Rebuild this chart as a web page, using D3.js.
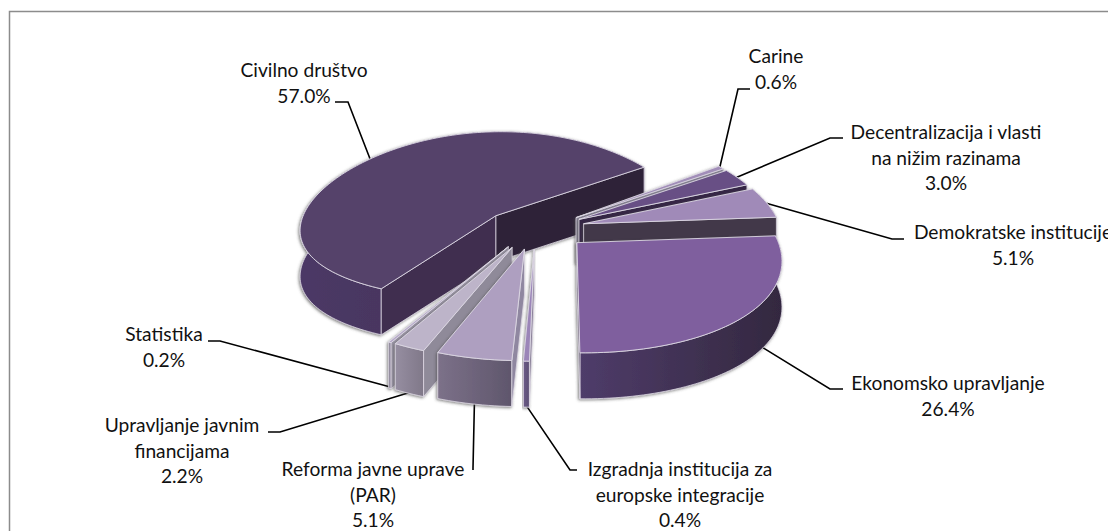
<!DOCTYPE html>
<html>
  <head>
    <meta http-equiv="Content-Type" content="text/html; charset=UTF-8" />
    <title>Pie</title>
    <script src="https://d3js.org/d3.v7.min.js"></script>
    <style>
      html, body { margin: 0; padding: 0; background: #fff; overflow: hidden; }
      text { font-family: Lato, "Open Sans", sans-serif; font-size: 19.2px; fill: #111; text-anchor: middle; }
    </style>
  </head>
  <body>
    <script type="text/javascript">
    // values in percent, clockwise from the first slice
    var categories = ["Civilno društvo", "Carine", "Decentralizacija i vlasti|na nižim razinama", "Demokratske institucije",
      "Ekonomsko upravljanje", "Izgradnja institucija za|europske integracije", "Reforma javne uprave|(PAR)",
      "Upravljanje javnim|financijama", "Statistika"];
    var shares = [57.0, 0.6, 3.0, 5.1, 26.4, 0.4, 5.1, 2.2, 0.2];

    var topColors = ["#55426b", "#a18db8", "#674f85", "#a08ab8", "#7f5f9e", "#9b85b8", "#ae9fc0", "#bdb4c9", "#b5a8c8"];
    var wallLight = ["#4c3966", "#8a8398", "#4a3a62", "#5a4e68", "#4f3c6a", "#6c5c88", "#7c7189", "#968ea1", "#8f8799"];
    var wallDark = ["#3c2c4e", "#76708a", "#352845", "#423848", "#33283f", "#5a4c72", "#5f566c", "#807889", "#7f7790"];
    var faceStart = ["#3f2d4f", "#8a8598", "#352845", "#423848", "#33283f", "#8a8198", "#8f87a0", "#8f8a99", "#9a95a5"];
    var faceEnd = ["#2e2338", "#8a8598", "#352845", "#423848", "#33283f", "#8a8198", "#8f87a0", "#8f8a99", "#9a95a5"];

    // label layout: centre, first baseline, leader elbow and leader end
    var labelX = [304, 776, 946, 1013, 948, 680, 373, 182, 164];
    var labelY = [77, 63, 139, 239, 390, 476, 476, 432, 341];
    var elbowX = [348, 738, 830, 892, 830, 570, 473, 280, 220];
    var elbowY = [102, 89, 138, 239, 389, 470, 468, 432, 341];
    var endX = [335, 750, 843, 904, 843, 577, 473, 268, 208];
    var endY = [102, 89, 138, 239, 389, 470, 470, 432, 341];
    // where along its slice each leader leaves (0 start, 1 end)
    var leaderAt = [0.5, 0.5, 0.5, 0.5, 0.4, 0.5, 0.5, 0.5, 0.5];
    // how far each slice is pulled out, as a share of the radius
    var explode = [0.28, 0.25, 0.25, 0.25, 0.28, 0.28, 0.28, 0.28, 0.28];
    // the big slice sits further back and looks flatter than the others
    var squash = [84, 96, 96, 96, 96, 96, 96, 96, 96];
    var perspY = [0, 0.1, 0.1, 0.1, 0.1, 0.1, 0.1, 0.1, 0.1];

    var width = 1108, height = 531;
    var cx = 536, cy = 228;   // pie centre on screen
    var S = 197, perspX = 0.15, depth = 46;
    var explodeY = 0.78;
    var lineGap = 25.5;
    var firstAngle = 209.5;

    var svg = d3.select("body").append("svg").attr("width", width).attr("height", height);
    var defs = svg.append("defs");
    var shadow = defs.append("filter").attr("id", "shadow")
      .attr("x", "-10%").attr("y", "-10%").attr("width", "120%").attr("height", "120%");
    shadow.append("feDropShadow").attr("dx", -1).attr("dy", 1).attr("stdDeviation", 1.6)
      .attr("flood-color", "#444").attr("flood-opacity", 0.7);

    svg.append("path").attr("d", "M9.5," + height + "V11.5H" + width)
      .attr("fill", "none").attr("stroke", "#8c8c8c").attr("stroke-width", 1.5);

    var pie = d3.pie().sort(null).value(function(d) { return d; })
      .startAngle(firstAngle * Math.PI / 180).endAngle((firstAngle + 360) * Math.PI / 180);
    var arcs = pie(shares);

    // point on a slice: a = pie angle, r = radius 0..1, z = 0 top, 1 bottom
    function project(arc, a, r, z) {
      var mid = (arc.startAngle + arc.endAngle) / 2, i = arc.index;
      var u = explode[i] * Math.sin(mid) + r * Math.sin(a);
      var v = -explode[i] * explodeY * Math.cos(mid) - r * Math.cos(a);
      return [cx + S * u / (1 - perspX * v), cy + squash[i] * v / (1 - perspY[i] * v) + z * depth];
    }

    function rim(arc, z) {
      var steps = Math.max(2, Math.ceil((arc.endAngle - arc.startAngle) * 40));
      return d3.range(steps + 1).map(function(i) {
        return project(arc, arc.startAngle + (arc.endAngle - arc.startAngle) * i / steps, 1, z);
      });
    }

    function face(arc, a) {
      return [project(arc, a, 0, 0), project(arc, a, 1, 0), project(arc, a, 1, 1), project(arc, a, 0, 1)];
    }

    var poly = function(p) { return "M" + p.join("L") + "Z"; };
    var edge = "#ddd8e3";

    // leaders go under the pie so they stop at the slice edge
    arcs.forEach(function(arc, i) {
      var a = arc.startAngle + (arc.endAngle - arc.startAngle) * leaderAt[i];
      var start = project(arc, a, 0.99, -Math.cos(a) > 0 ? 1 : 0);
      svg.append("polyline")
        .attr("points", [start, [elbowX[i], elbowY[i]], [endX[i], endY[i]]].join(" "))
        .attr("fill", "none").attr("stroke", "#000").attr("stroke-width", 1.6);
    });

    // back to front
    var order = d3.range(arcs.length).sort(function(a, b) {
      var ma = (arcs[a].startAngle + arcs[a].endAngle) / 2, mb = (arcs[b].startAngle + arcs[b].endAngle) / 2;
      return d3.ascending(-Math.cos(ma), -Math.cos(mb));
    });

    order.forEach(function(i) {
      var arc = arcs[i];
      var g = svg.append("g").attr("filter", "url(#shadow)");
      var upper = rim(arc, 0), lower = rim(arc, 1);
      var xs = d3.extent(upper, function(p) { return p[0]; });
      var grad = defs.append("linearGradient").attr("id", "wall" + i)
        .attr("gradientUnits", "userSpaceOnUse")
        .attr("x1", xs[0]).attr("x2", xs[1]).attr("y1", 0).attr("y2", 0);
      grad.append("stop").attr("offset", 0).attr("stop-color", wallLight[i]);
      grad.append("stop").attr("offset", 1).attr("stop-color", wallDark[i]);

      g.append("path").attr("d", poly(upper.concat(lower.reverse())))
        .attr("fill", "url(#wall" + i + ")").attr("stroke", edge).attr("stroke-width", 0.8);

      var fs = face(arc, arc.startAngle), fe = face(arc, arc.endAngle);
      if (d3.polygonArea(fs) > 0) {
        g.append("path").attr("d", poly(fs)).attr("fill", faceStart[i]).attr("stroke", edge).attr("stroke-width", 0.8);
      }
      if (d3.polygonArea(fe) < 0) {
        g.append("path").attr("d", poly(fe)).attr("fill", faceEnd[i]).attr("stroke", edge).attr("stroke-width", 0.8);
      }

      g.append("path").attr("d", poly([project(arc, 0, 0, 0)].concat(upper)))
        .attr("fill", topColors[i]).attr("stroke", edge).attr("stroke-width", 0.9);
    });

    var pct = d3.format(".1f");
    categories.forEach(function(name, i) {
      var lines = name.split("|").concat(pct(shares[i]) + "%");
      lines.forEach(function(line, j) {
        svg.append("text").attr("x", labelX[i]).attr("y", labelY[i] + j * lineGap).text(line);
      });
    });
    </script>
  </body>
</html>
